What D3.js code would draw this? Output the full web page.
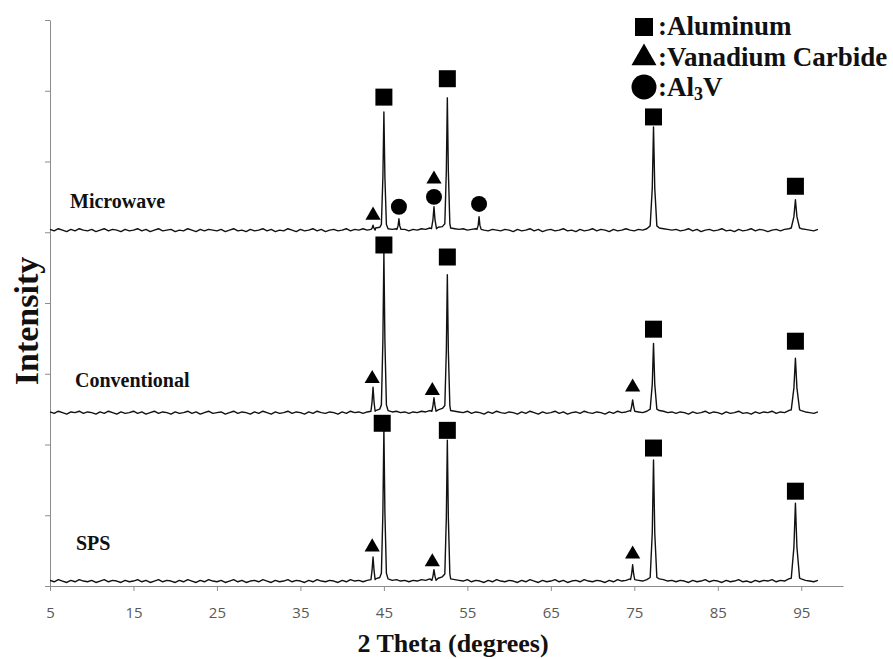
<!DOCTYPE html>
<html>
<head>
<meta charset="utf-8">
<script src="https://cdn.jsdelivr.net/npm/d3@7"></script>
<style>
  body { margin: 0; background: #fff; }
  .lbl { font-family: "Liberation Serif", "Times New Roman", serif; font-weight: bold; fill: #111; }
</style>
</head>
<body>
<div id="chart"></div>
<script>
// 2 theta grid of the background scans
const thetaStart = 5, thetaStep = 0.5;
const xTicks = [5, 15, 25, 35, 45, 55, 65, 75, 85, 95];
const yTicks = [0, 1, 2, 3, 4, 5, 6, 7, 8];

// background values, one per 0.5 degree from 5 to 97
const microwaveBase = [
  5.04,5.02,5.05,5.03,5.01,5.04,5.02,5.05,5.03,5.02,
  5.04,5.01,5.03,5.05,5.02,5.04,5.03,5.01,5.04,5.02,
  5.03,5.05,5.02,5.04,5.01,5.03,5.05,5.02,5.03,5.04,
  5.01,5.03,5.02,5.05,5.03,5.01,5.04,5.02,5.04,5.03,
  5.02,5.04,5.01,5.03,5.05,5.02,5.03,5.01,5.04,5.02,
  5.03,5.05,5.02,5.04,5.01,5.03,5.02,5.05,5.03,5.01,
  5.04,5.02,5.03,5.05,5.02,5.04,5.01,5.03,5.04,5.02,
  5.03,5.05,5.02,5.04,5.03,5.05,5.03,5.04,5.06,5.07,
  5.07,5.05,5.04,5.05,5.03,5.04,5.02,5.04,5.03,5.05,
  5.04,5.06,5.05,5.07,5.08,5.07,5.06,5.05,5.04,5.05,
  5.03,5.04,5.05,5.04,5.03,5.02,5.04,5.03,5.02,5.04,
  5.03,5.01,5.04,5.02,5.03,5.05,5.02,5.04,5.01,5.03,
  5.04,5.02,5.03,5.05,5.02,5.03,5.01,5.04,5.02,5.03,
  5.05,5.02,5.04,5.03,5.01,5.04,5.02,5.03,5.05,5.03,
  5.02,5.04,5.03,5.05,5.06,5.07,5.06,5.05,5.04,5.03,
  5.04,5.02,5.03,5.05,5.02,5.04,5.01,5.03,5.04,5.02,
  5.03,5.05,5.02,5.03,5.01,5.04,5.02,5.03,5.05,5.02,
  5.04,5.03,5.01,5.03,5.04,5.02,5.04,5.05,5.06,5.07,
  5.05,5.04,5.03,5.02,5.04
];
const conventionalBase = [
  2.46,2.44,2.47,2.45,2.43,2.46,2.45,2.47,2.44,2.46,
  2.45,2.43,2.46,2.44,2.47,2.45,2.43,2.46,2.44,2.45,
  2.47,2.44,2.46,2.43,2.45,2.47,2.44,2.46,2.45,2.43,
  2.46,2.44,2.45,2.47,2.44,2.46,2.43,2.45,2.47,2.44,
  2.45,2.46,2.43,2.45,2.47,2.44,2.46,2.45,2.43,2.46,
  2.44,2.47,2.45,2.43,2.46,2.44,2.45,2.47,2.44,2.46,
  2.45,2.43,2.46,2.44,2.47,2.45,2.44,2.46,2.45,2.43,
  2.46,2.44,2.47,2.45,2.46,2.44,2.46,2.47,2.48,2.50,
  2.50,2.48,2.46,2.47,2.45,2.46,2.44,2.46,2.45,2.47,
  2.46,2.48,2.47,2.49,2.51,2.50,2.48,2.47,2.46,2.45,
  2.47,2.44,2.46,2.45,2.43,2.46,2.44,2.47,2.45,2.44,
  2.46,2.45,2.43,2.46,2.44,2.47,2.45,2.43,2.46,2.44,
  2.45,2.47,2.44,2.46,2.43,2.45,2.46,2.44,2.47,2.45,
  2.44,2.46,2.45,2.43,2.46,2.44,2.47,2.45,2.46,2.48,
  2.47,2.46,2.45,2.47,2.49,2.50,2.48,2.47,2.45,2.46,
  2.44,2.46,2.45,2.43,2.46,2.44,2.45,2.47,2.44,2.46,
  2.45,2.43,2.46,2.44,2.45,2.47,2.44,2.45,2.43,2.46,
  2.44,2.46,2.45,2.47,2.44,2.46,2.45,2.48,2.49,2.50,
  2.48,2.46,2.45,2.44,2.46
];
const spsBase = [
  0.08,0.06,0.09,0.07,0.05,0.08,0.06,0.09,0.07,0.06,
  0.08,0.05,0.07,0.09,0.06,0.08,0.07,0.05,0.08,0.06,
  0.07,0.09,0.06,0.08,0.05,0.07,0.09,0.06,0.08,0.07,
  0.05,0.08,0.06,0.09,0.07,0.05,0.08,0.06,0.09,0.07,
  0.06,0.08,0.05,0.07,0.09,0.06,0.08,0.05,0.07,0.08,
  0.06,0.09,0.07,0.05,0.08,0.06,0.07,0.09,0.06,0.08,
  0.07,0.05,0.08,0.06,0.09,0.07,0.06,0.08,0.07,0.05,
  0.08,0.06,0.09,0.07,0.08,0.06,0.08,0.09,0.10,0.12,
  0.12,0.10,0.08,0.09,0.07,0.08,0.06,0.08,0.07,0.09,
  0.08,0.10,0.09,0.11,0.13,0.12,0.10,0.09,0.08,0.07,
  0.09,0.06,0.08,0.07,0.05,0.08,0.06,0.09,0.07,0.06,
  0.08,0.07,0.05,0.08,0.06,0.09,0.07,0.05,0.08,0.06,
  0.07,0.09,0.06,0.08,0.05,0.07,0.08,0.06,0.09,0.07,
  0.06,0.08,0.07,0.05,0.08,0.06,0.09,0.07,0.08,0.10,
  0.09,0.08,0.07,0.09,0.11,0.12,0.10,0.09,0.07,0.08,
  0.06,0.08,0.07,0.05,0.08,0.06,0.07,0.09,0.06,0.08,
  0.07,0.05,0.08,0.06,0.07,0.09,0.06,0.07,0.05,0.08,
  0.06,0.08,0.07,0.09,0.06,0.08,0.07,0.10,0.11,0.12,
  0.10,0.08,0.07,0.06,0.08
];

// peak profiles [2theta, intensity]
const microwavePeaks = [
  [[43.45,5.04],[43.6,5.06],[43.7,5.10],[43.8,5.06],[43.95,5.03]],
  [[44.7,5.11],[44.88,5.78],[45.0,6.70],[45.12,5.78],[45.3,5.11]],
  [[46.55,5.04],[46.7,5.09],[46.8,5.19],[46.9,5.09],[47.05,5.04]],
  [[50.7,5.05],[50.88,5.18],[51.0,5.36],[51.12,5.18],[51.3,5.05]],
  [[52.3,5.12],[52.48,5.87],[52.6,6.90],[52.72,5.87],[52.9,5.12]],
  [[56.15,5.04],[56.3,5.10],[56.4,5.22],[56.5,5.10],[56.65,5.04]],
  [[76.9,5.09],[77.15,5.62],[77.3,6.49],[77.45,5.62],[77.7,5.09]],
  [[93.8,5.06],[94.12,5.22],[94.3,5.46],[94.48,5.22],[94.8,5.06]]
];
const conventionalPeaks = [
  [[43.45,2.47],[43.58,2.60],[43.7,2.81],[43.82,2.60],[43.95,2.47]],
  [[44.7,2.56],[44.88,3.47],[45.0,4.71],[45.12,3.47],[45.3,2.56]],
  [[50.75,2.47],[50.88,2.55],[51.0,2.66],[51.12,2.55],[51.25,2.47]],
  [[52.3,2.55],[52.48,3.33],[52.6,4.40],[52.72,3.33],[52.9,2.55]],
  [[74.55,2.47],[74.68,2.54],[74.8,2.63],[74.92,2.54],[75.05,2.47]],
  [[76.9,2.50],[77.15,2.85],[77.3,3.43],[77.45,2.85],[77.7,2.50]],
  [[93.8,2.49],[94.12,2.80],[94.3,3.22],[94.48,2.80],[94.8,2.49]]
];
const spsPeaks = [
  [[43.45,0.09],[43.58,0.22],[43.7,0.41],[43.82,0.22],[43.95,0.09]],
  [[44.7,0.18],[44.88,1.04],[45.0,2.23],[45.12,1.04],[45.3,0.18]],
  [[50.75,0.08],[50.88,0.14],[51.0,0.23],[51.12,0.14],[51.25,0.08]],
  [[52.3,0.17],[52.48,0.97],[52.6,2.06],[52.72,0.97],[52.9,0.17]],
  [[74.55,0.09],[74.68,0.17],[74.8,0.30],[74.92,0.17],[75.05,0.09]],
  [[76.9,0.12],[77.15,0.75],[77.3,1.78],[77.45,0.75],[77.7,0.12]],
  [[93.8,0.11],[94.12,0.55],[94.3,1.17],[94.48,0.55],[94.8,0.11]]
];

// phase markers [2theta, intensity]
const aluminumMarks = [
  [45.0,6.91],[52.6,7.17],[77.3,6.63],[94.3,5.65],
  [45.0,4.82],[52.6,4.65],[77.3,3.63],[94.3,3.46],
  [44.8,2.30],[52.6,2.20],[77.3,1.95],[94.3,1.34]
];
const carbideMarks = [
  [43.7,5.24],[51.0,5.75],
  [43.6,2.93],[50.8,2.76],[74.8,2.81],
  [43.6,0.55],[50.8,0.34],[74.8,0.45]
];
const al3vMarks = [[46.8,5.36],[51.0,5.50],[56.4,5.40]];

const seriesNames = ["Microwave", "Conventional", "SPS"];

function buildSeries(base, peaks) {
  var pts = base.map(function (v, i) { return [thetaStart + i * thetaStep, v]; })
    .filter(function (p) {
      return !peaks.some(function (pk) { return p[0] >= pk[0][0] && p[0] <= pk[pk.length - 1][0]; });
    });
  peaks.forEach(function (pk) { pts = pts.concat(pk); });
  return pts.sort(function (a, b) { return a[0] - b[0]; });
}

var width = 893, height = 659;
var svg = d3.select("#chart").append("svg")
  .attr("width", width).attr("height", height);

var x = d3.scaleLinear().domain([5, 100]).range([50, 843]);
var y = d3.scaleLinear().domain([0, 8]).range([586, 20]);

// x axis
var xAxis = svg.append("g")
  .attr("transform", "translate(0," + y(0) + ")")
  .call(d3.axisBottom(x).tickValues(xTicks).tickSize(5).tickPadding(16).tickSizeOuter(0));
xAxis.select(".domain").attr("stroke", "#8c8c8c");
xAxis.selectAll(".tick line").attr("stroke", "#8c8c8c");
xAxis.selectAll(".tick text")
  .attr("font-family", "'Open Sans', 'Noto Sans', sans-serif")
  .attr("font-size", 15)
  .attr("fill", "#595959");

// y axis, no labels
var yAxis = svg.append("g")
  .attr("transform", "translate(" + x(5) + ",0)")
  .call(d3.axisLeft(y).tickValues(yTicks).tickSize(5).tickFormat("").tickSizeOuter(0));
yAxis.select(".domain").attr("stroke", "#8c8c8c");
yAxis.selectAll(".tick line").attr("stroke", "#8c8c8c");

var line = d3.line()
  .x(function (d) { return x(d[0]); })
  .y(function (d) { return y(d[1]); });

[buildSeries(microwaveBase, microwavePeaks),
 buildSeries(conventionalBase, conventionalPeaks),
 buildSeries(spsBase, spsPeaks)].forEach(function (s) {
  svg.append("path")
    .datum(s)
    .attr("fill", "none")
    .attr("stroke", "#111")
    .attr("stroke-width", 1.4)
    .attr("stroke-linejoin", "round")
    .attr("d", line);
});

// markers
function marks(data, type, size) {
  svg.append("g").selectAll("path")
    .data(data)
    .enter().append("path")
    .attr("transform", function (d) { return "translate(" + x(d[0]) + "," + y(d[1]) + ")"; })
    .attr("d", d3.symbol().type(type).size(size))
    .attr("fill", "#000");
}
marks(aluminumMarks, d3.symbolSquare, 289);
marks(carbideMarks, d3.symbolTriangle, 100);
marks(al3vMarks, d3.symbolCircle, 201);

// series labels
var labelPos = [[70, 208], [75, 387], [76, 550]];
seriesNames.forEach(function (n, i) {
  svg.append("text")
    .attr("class", "lbl")
    .attr("x", labelPos[i][0])
    .attr("y", labelPos[i][1])
    .style("font-size", "20px")
    .text(n);
});

// axis titles
svg.append("text")
  .attr("class", "lbl")
  .attr("x", 453).attr("y", 652)
  .attr("text-anchor", "middle")
  .style("font-size", "26px")
  .text("2 Theta (degrees)");

svg.append("text")
  .attr("class", "lbl")
  .attr("transform", "translate(38,321) rotate(-90)")
  .attr("text-anchor", "middle")
  .style("font-size", "34px")
  .text("Intensity");

// legend
var lg = svg.append("g").attr("transform", "translate(644,0)");
lg.append("path").attr("transform", "translate(0,27)")
  .attr("d", d3.symbol().type(d3.symbolSquare).size(324)).attr("fill", "#000");
lg.append("path").attr("transform", "translate(0,58)")
  .attr("d", d3.symbol().type(d3.symbolTriangle).size(270)).attr("fill", "#000");
lg.append("path").attr("transform", "translate(0,87)")
  .attr("d", d3.symbol().type(d3.symbolCircle).size(491)).attr("fill", "#000");

lg.append("text").attr("class", "lbl").attr("x", 14).attr("y", 35)
  .style("font-size", "27px").text(":Aluminum");
lg.append("text").attr("class", "lbl").attr("x", 14).attr("y", 66)
  .style("font-size", "27px").text(":Vanadium Carbide");
var t3 = lg.append("text").attr("class", "lbl").attr("x", 14).attr("y", 96)
  .style("font-size", "27px");
t3.append("tspan").text(":Al");
t3.append("tspan").attr("dy", 4).style("font-size", "18px").text("3");
t3.append("tspan").attr("dy", -4).text("V");
</script>
</body>
</html>
